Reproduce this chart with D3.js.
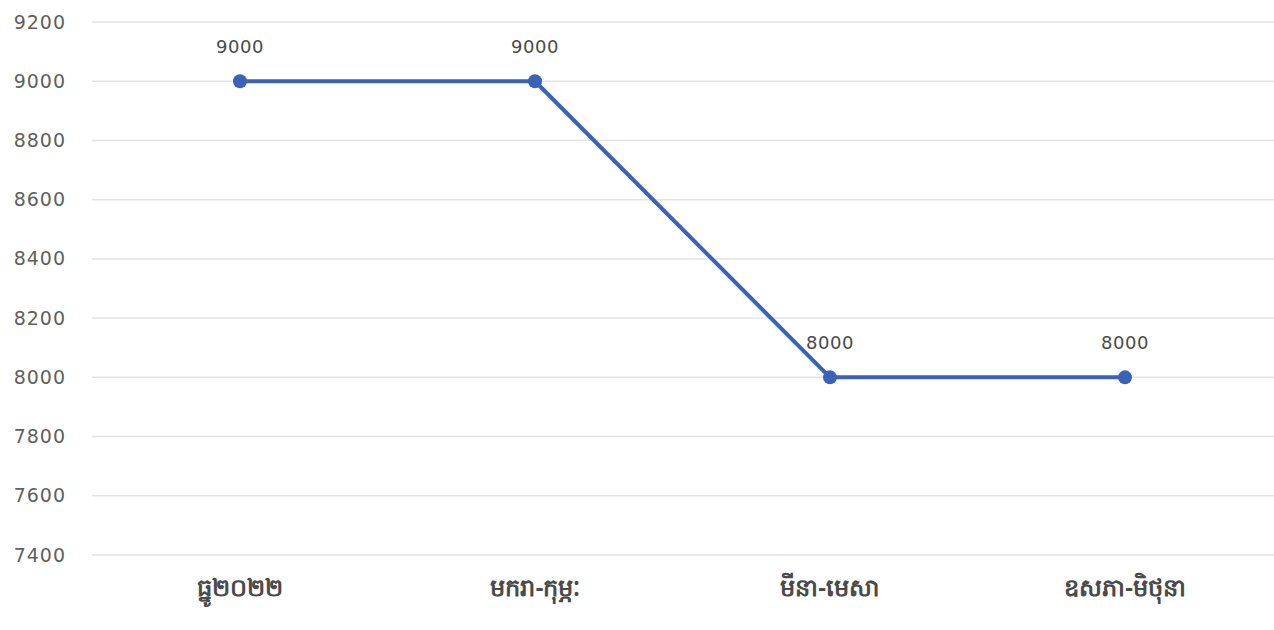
<!DOCTYPE html>
<html>
<head>
<meta charset="utf-8">
<script src="https://cdn.jsdelivr.net/npm/d3@7"></script>
<style>
  body { margin: 0; background: #fff; }
  svg { display: block; font-family: "DejaVu Sans", "Noto Sans", sans-serif; }
</style>
</head>
<body>
<div id="chart"></div>
<script>
const categories = ['ធ្នូ២០២២', 'មករា-កុម្ភៈ', 'មីនា-មេសា', 'ឧសភា-មិថុនា'];
const values = [9000, 9000, 8000, 8000];
const yTicks = [7400, 7600, 7800, 8000, 8200, 8400, 8600, 8800, 9000, 9200];

const width = 1274, height = 630;

const svg = d3.select('#chart')
  .append('svg')
  .attr('width', width)
  .attr('height', height);

const x = d3.scaleBand()
  .domain(categories)
  .range([92.5, 1272.5]);

const y = d3.scaleLinear()
  .domain([7400, 9200])
  .range([555, 22]);

// gridlines
svg.append('g')
  .selectAll('line')
  .data(yTicks)
  .enter()
  .append('line')
  .attr('x1', 92)
  .attr('x2', width)
  .attr('y1', d => y(d))
  .attr('y2', d => y(d))
  .attr('stroke', '#e3e3e3')
  .attr('stroke-width', 1.5);

// y axis labels
const yAxis = d3.axisLeft(y).tickValues(yTicks).tickFormat(d3.format('d')).tickSize(0).tickPadding(0);
const yg = svg.append('g')
  .attr('transform', 'translate(66,0)')
  .call(yAxis);
yg.select('.domain').remove();
yg.selectAll('text')
  .attr('fill', '#5f5f5f')
  .style('font-family', '"DejaVu Sans", sans-serif')
  .style('font-size', '19px')
  .style('letter-spacing', '1px');

// x axis labels
const xAxis = d3.axisBottom(x).tickSize(0).tickPadding(0);
const xg = svg.append('g')
  .attr('transform', 'translate(0,588)')
  .call(xAxis);
xg.select('.domain').remove();
xg.selectAll('text')
  .attr('fill', '#4a4a4a')
  .attr('dy', '0.35em')
  .style('font-family', '"Noto Sans", sans-serif')
  .style('font-size', '24px')
  .style('font-weight', 'bold');

const cx = d => x(d) + x.bandwidth() / 2;

const line = d3.line()
  .x((d, i) => cx(categories[i]))
  .y(d => y(d));

svg.append('path')
  .datum(values)
  .attr('d', line)
  .attr('fill', 'none')
  .attr('stroke', '#3a63b5')
  .attr('stroke-width', 4)
  .attr('stroke-linejoin', 'round');

svg.append('g')
  .selectAll('circle')
  .data(values)
  .enter()
  .append('circle')
  .attr('cx', (d, i) => cx(categories[i]))
  .attr('cy', d => y(d))
  .attr('r', 7)
  .attr('fill', '#3a63b5');

svg.append('g')
  .selectAll('text')
  .data(values)
  .enter()
  .append('text')
  .attr('x', (d, i) => cx(categories[i]))
  .attr('y', d => y(d) - 28)
  .attr('text-anchor', 'middle')
  .attr('fill', '#4a4a4a')
  .style('font-size', '18px')
  .style('letter-spacing', '0.5px')
  .text(d => d);
</script>
</body>
</html>
